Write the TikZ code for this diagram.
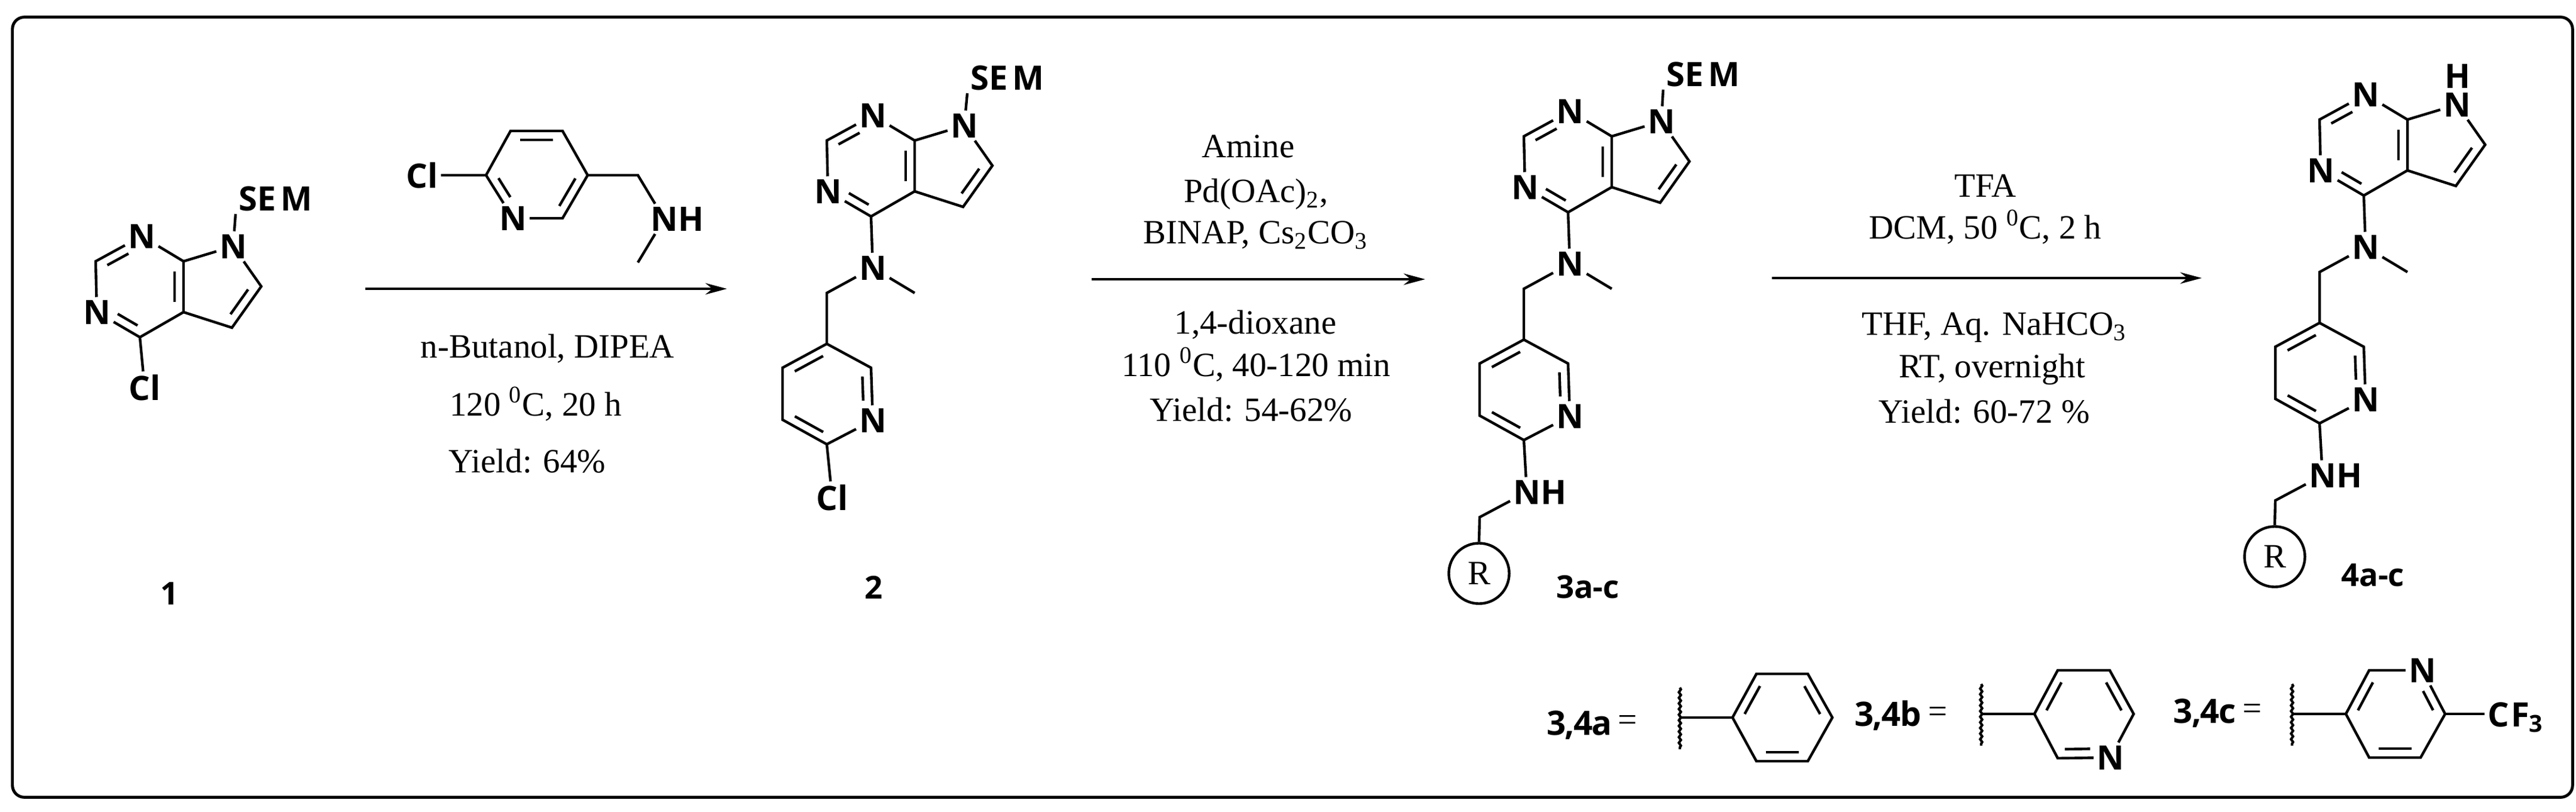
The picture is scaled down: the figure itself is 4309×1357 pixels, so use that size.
\documentclass[tikz,border=0pt]{standalone}
\usepackage{xcolor}
\usepackage{fontspec}
\setmainfont{Liberation Serif}
\setsansfont{Open Sans}
\usepackage{tikz}
\usetikzlibrary{arrows.meta,calc,positioning,decorations.pathmorphing}

\tikzset{
    atom/.style={font=\sffamily\bfseries\fontsize{16}{16}\selectfont, inner sep=0.03cm},
    cond/.style={font=\fontsize{16.2}{16}\selectfont, inner sep=0pt},
    tag/.style={font=\sffamily\bfseries\fontsize{15}{15}\selectfont, inner sep=0pt},
    tagrow/.style={font=\sffamily\bfseries\fontsize{16}{16}\selectfont\addfontfeature{LetterSpace=-3}, inner sep=0pt},
    rxn/.style={line width=1.1pt, -{Stealth[length=0.36cm, width=0.19cm]}},
    cut/.style={line width=1.2pt, decorate, decoration={snake, amplitude=0.016cm, segment length=0.094cm}},
}

% inner line of a double bond, a to b with the ring on the left
\newcommand{\dbl}[4]{\draw ($(#1)!#3!(#2)!0.15cm!90:(#2)$) -- ($(#2)!#4!(#1)!0.15cm!-90:(#1)$);}

% pyrrolopyrimidine, placed by its C4
\newcommand{\corering}[4]{
\begin{scope}[shift={(#2,#3)}, name prefix=#1-]
    \coordinate (c4) at (0,0);
    \coordinate (c2) at (-74,-127);
    \coordinate (c4a) at (73,-42);
    \coordinate (c7a) at (73,-127);
    \coordinate (c5) at (154,-16);
    \coordinate (c6) at (203,-85);
    \node[atom] (n3) at (3,-169) {N};
    \node[atom] (n1) at (-72,-42) {N};
    \node[atom] (n7) at (156,-152) {N};
    \draw (n3) -- (c2) -- (n1) -- (c4) -- (c4a) -- (c7a) -- (n3);
    \draw (c7a) -- (n7) -- (c6) -- (c5) -- (c4a);
    \dbl{n3}{c2}{.38}{.16}
    \dbl{n1}{c4}{.38}{.16}
    \dbl{c4a}{c7a}{.2}{.2}
    \dbl{c5}{c6}{.2}{.2}
    #4
\end{scope}}

% N-methyl link and pyridine below C4
\newcommand{\sidering}{
    \node[atom] (nme) at (3,86) {N};
    \coordinate (me) at (73,128);
    \coordinate (ch2) at (-74,128);
    \coordinate (p5) at (-74,213);
    \coordinate (p4) at (-148,253);
    \coordinate (p3) at (-148,340);
    \coordinate (p2) at (-74,381);
    \coordinate (p6) at (0,253);
    \node[atom] (p1) at (3,341) {N};
    \draw (c4) -- (nme) -- (me);
    \draw (nme) -- (ch2) -- (p5) -- (p4) -- (p3) -- (p2) -- (p1) -- (p6) -- (p5);
    \dbl{p5}{p4}{.18}{.18}
    \dbl{p3}{p2}{.18}{.18}
    \dbl{p1}{p6}{.38}{.16}
}

% NH-CH2 and the R circle below the pyridine
\newcommand{\aminetail}{
    \node[atom] (nh) at (-69,468) {N};
    \node[atom, right=-0.1cm of nh] (hn) {H};
    \coordinate (ch2b) at (-148,510);
    \node[draw, circle, minimum size=1.01cm, inner sep=0pt, font=\fontsize{16.2}{16}\selectfont] (rg) at (-149,604) {R};
    \draw (p2) -- (nh) -- (ch2b) -- (rg.north);
}

\begin{document}
\begin{tikzpicture}[x=0.01cm, y=-0.01cm, line width=1.25pt]
    \useasboundingbox (0,0) rectangle (4309,1357);
    \node[draw, line width=1.4pt, rounded corners=0.2cm, minimum width=42.8cm, minimum height=13.04cm, inner sep=0pt] (frame) at (2162,681) {};

    % compound 1
    \corering{a}{234}{564}{
        \node[atom] (sem) at (227,-232) {SE\kern0.08cm M};
        \node[atom] (cl) at (8,84) {Cl};
        \draw (n7) -- (sem.south west);
        \draw (c4) -- (cl);
    }
    \node[tag] (lab1) at (284,993) {1};

    % amine over the first arrow
    \coordinate (r2) at (813,293);
    \coordinate (r3) at (854,219);
    \coordinate (r4) at (941,219);
    \coordinate (r5) at (983,293);
    \coordinate (r6) at (941,365);
    \coordinate (rch2) at (1067,293);
    \coordinate (rme) at (1067,439);
    \node[atom] (rcl) at (706,293) {Cl};
    \node[atom] (r1) at (858,365) {N};
    \node[atom] (rn) at (1111,366) {N};
    \node[atom, right=-0.1cm of rn] (rh) {H};
    \draw (rcl) -- (r2) -- (r3) -- (r4) -- (r5) -- (r6) -- (r1) -- (r2);
    \draw (r5) -- (rch2) -- (rn) -- (rme);
    \dbl{r2}{r1}{.18}{.38}
    \dbl{r6}{r5}{.18}{.18}
    \dbl{r4}{r3}{.18}{.18}

    % first step
    \coordinate (s1) at (611,483);
    \coordinate (e1) at (1216,483);
    \draw[rxn] (s1) -- (e1);
    \node[cond] (t1a) at (916,583) {n-Butanol, DIPEA};
    \node[cond] (t1b) at (896,676) {120 \textsuperscript{0}C, 20 h};
    \node[cond] (t1c) at (882,771) {Yield: 64\%};

    % compound 2
    \corering{b}{1457}{362}{
        \node[atom] (sem) at (228,-232) {SE\kern0.08cm M};
        \draw (n7) -- (sem.south west);
        \sidering
        \node[atom] (cl) at (-65,470) {Cl};
        \draw (p2) -- (cl);
    }
    \node[tag] (lab2) at (1462,982) {2};

    % second step
    \coordinate (s2) at (1826,467);
    \coordinate (e2) at (2384,467);
    \draw[rxn] (s2) -- (e2);
    \node[cond] (t2a) at (2088,245) {Amine};
    \node[cond] (t2b) at (2101,325) {Pd(OAc)\textsubscript{2},};
    \node[cond] (t2c) at (2100,393) {BINAP, Cs\textsubscript{2}CO\textsubscript{3}};
    \node[cond] (t2d) at (2100,543) {1,4-dioxane};
    \node[cond] (t2e) at (2101,610) {110 \textsuperscript{0}C, 40-120 min};
    \node[cond] (t2f) at (2093,685) {Yield: 54-62\%};

    % compounds 3a-c
    \corering{c}{2623}{355}{
        \node[atom] (sem) at (226,-231) {SE\kern0.08cm M};
        \draw (n7) -- (sem.south west);
        \sidering
        \aminetail
    }
    \node[tag] (lab3) at (2656,982) {3a-c};

    % third step
    \coordinate (s3) at (2964,465);
    \coordinate (e3) at (3683,465);
    \draw[rxn] (s3) -- (e3);
    \node[cond] (t3a) at (3321,311) {TFA};
    \node[cond] (t3b) at (3321,380) {DCM, 50 \textsuperscript{0}C, 2 h};
    \node[cond] (t3c) at (3336,548) {THF, Aq. NaHCO\textsubscript{3}};
    \node[cond] (t3d) at (3332,618) {RT, overnight};
    \node[cond] (t3e) at (3319,688) {Yield: 60-72 \%};

    % compounds 4a-c
    \corering{d}{3954}{327}{
        \node[atom, inner sep=0pt] (hh) at (157,-200) {H};
        \sidering
        \aminetail
    }
    \node[tag] (lab4) at (3969,962) {4a-c};

    % R = phenyl
    \node[tagrow] (lab5) at (2642,1213) {3,4a};
    \node[cond] (eq5) at (2723,1209) {=};
    \coordinate (w5a) at (2810,1150);
    \coordinate (w5b) at (2810,1253);
    \coordinate (w5c) at (2810,1200);
    \coordinate (f1) at (2898,1200);
    \coordinate (f2) at (2938,1127);
    \coordinate (f3) at (3024,1127);
    \coordinate (f4) at (3065,1200);
    \coordinate (f5) at (3024,1273);
    \coordinate (f6) at (2938,1273);
    \draw[cut] (w5a) -- (w5b);
    \draw (w5c) -- (f1);
    \draw (f1) -- (f2) -- (f3) -- (f4) -- (f5) -- (f6) -- cycle;
    \dbl{f2}{f1}{.18}{.18}
    \dbl{f6}{f5}{.18}{.18}
    \dbl{f4}{f3}{.18}{.18}

    % R = 3-pyridyl
    \node[tagrow] (lab6) at (3158,1197) {3,4b};
    \node[cond] (eq6) at (3242,1195) {=};
    \coordinate (w6a) at (3314,1144);
    \coordinate (w6b) at (3314,1247);
    \coordinate (w6c) at (3314,1194);
    \coordinate (g1) at (3403,1194);
    \coordinate (g2) at (3442,1121);
    \coordinate (g3) at (3529,1121);
    \coordinate (g4) at (3569,1194);
    \coordinate (g6) at (3442,1268);
    \node[atom] (g5) at (3530,1267) {N};
    \draw[cut] (w6a) -- (w6b);
    \draw (w6c) -- (g1) -- (g2) -- (g3) -- (g4) -- (g5) -- (g6) -- (g1);
    \dbl{g2}{g1}{.18}{.18}
    \dbl{g6}{g5}{.14}{.38}
    \dbl{g4}{g3}{.18}{.18}

    % R = 6-CF3-3-pyridyl
    \node[tagrow] (lab7) at (3688,1193) {3,4c};
    \node[cond] (eq7) at (3768,1190) {=};
    \coordinate (w7a) at (3834,1144);
    \coordinate (w7b) at (3834,1247);
    \coordinate (w7c) at (3834,1194);
    \coordinate (h1) at (3924,1194);
    \coordinate (h2) at (3963,1121);
    \coordinate (h4) at (4090,1194);
    \coordinate (h5) at (4049,1267);
    \coordinate (h6) at (3963,1267);
    \node[atom] (h3) at (4052,1121) {N};
    \node[atom, anchor=west] (cf3) at (4156,1200) {C\kern0.03cm F\textsubscript{3}};
    \draw[cut] (w7a) -- (w7b);
    \draw (w7c) -- (h1) -- (h2) -- (h3) -- (h4) -- (h5) -- (h6) -- (h1);
    \draw (h4) -- (cf3.west |- h4);
    \dbl{h2}{h1}{.18}{.18}
    \dbl{h6}{h5}{.18}{.18}
    \dbl{h4}{h3}{.18}{.38}
\end{tikzpicture}
\end{document}
